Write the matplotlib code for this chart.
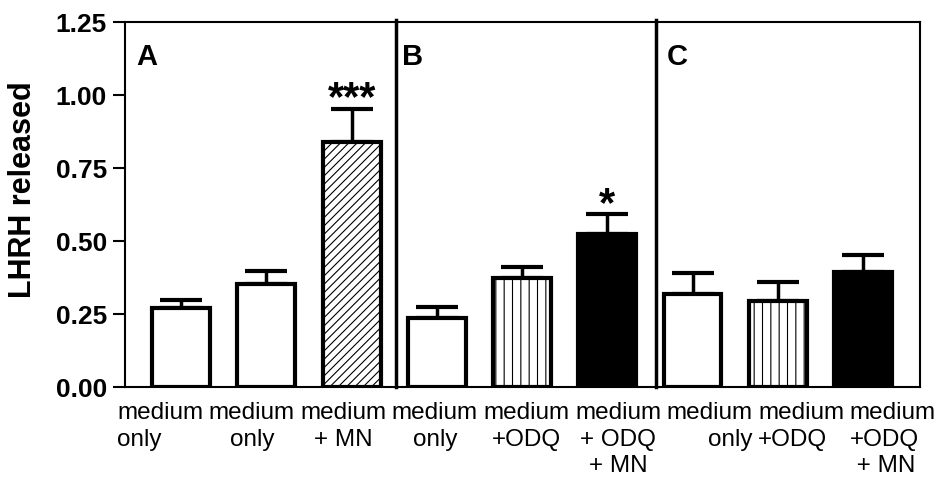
import matplotlib.pyplot as plt

plt.rcParams['font.family'] = ['Liberation Sans', 'DejaVu Sans']
plt.rcParams['hatch.linewidth'] = 0.8

# === Data ===
labels = ['medium\nonly', 'medium\nonly', 'medium\n+ MN',
          'medium\nonly', 'medium\n+ODQ', 'medium\n+ ODQ\n+ MN',
          'medium\nonly', 'medium\n+ODQ', 'medium\n+ODQ\n + MN']
label_align = ['left', 'center', 'center', 'center', 'center', 'center', 'right', 'left', 'left']
values = [0.272, 0.352, 0.840, 0.237, 0.372, 0.523, 0.320, 0.296, 0.395]
errors = [0.026, 0.045, 0.113, 0.037, 0.038, 0.068, 0.070, 0.062, 0.058]
stars = ['', '', '***', '', '', '*', '', '', '']
panels = ['A', 'B', 'C']

fills = ['white', 'white', 'white', 'white', 'white', 'black', 'white', 'white', 'black']
hatches = ['', '', '////', '', '||', '', '', '||', '']

# === Plot ===
fig = plt.figure(figsize=(9.37, 4.79), dpi=100)
ax = fig.add_axes([0.1334, 0.192, 0.8485, 0.762])

x = list(range(len(values)))
ax.bar(x, values, width=0.68, color=fills, edgecolor='black', linewidth=3, hatch=hatches, zorder=2)
ax.errorbar(x, values, yerr=[[0] * len(errors), errors], fmt='none', ecolor='black',
            elinewidth=2.5, capsize=15, capthick=3, zorder=1)

for xi, v, e, s in zip(x, values, errors, stars):
    if s:
        ax.text(xi, v + e - 0.035, s, ha='center', va='bottom', fontsize=30, fontweight='bold')

# panel dividers
for xd in [2.52, 5.57]:
    ax.axvline(xd, ymin=0, ymax=1.006, color='black', linewidth=2.5, clip_on=False)

for px, p in zip([0.014, 0.349, 0.681], panels):
    ax.text(px, 0.905, p, transform=ax.transAxes, ha='left', va='center', fontsize=21, fontweight='bold')

ax.set_xlim(-0.66, 8.67)
ax.set_ylim(0, 1.25)
ax.set_yticks([0, 0.25, 0.5, 0.75, 1.0, 1.25])
ax.set_yticklabels(['0.00', '0.25', '0.50', '0.75', '1.00', '1.25'], fontsize=19, fontweight='bold')

# category labels sit on an even grid slightly wider than the bars
ax.set_xticks([-0.246 + i * 1.0745 for i in x])
ax.set_xticklabels(labels, fontsize=17.5, linespacing=1.25)
for t, a in zip(ax.get_xticklabels(), label_align):
    t.set_multialignment(a)
ax.tick_params(axis='x', length=0, pad=11)
ax.tick_params(axis='y', length=9, width=1.5, pad=4)
ax.set_ylabel('LHRH released', fontsize=22, fontweight='bold')
ax.yaxis.set_label_coords(-0.11, 0.54)
for sp in ax.spines.values():
    sp.set_linewidth(1.5)

fig.savefig('out.png', dpi=100)
